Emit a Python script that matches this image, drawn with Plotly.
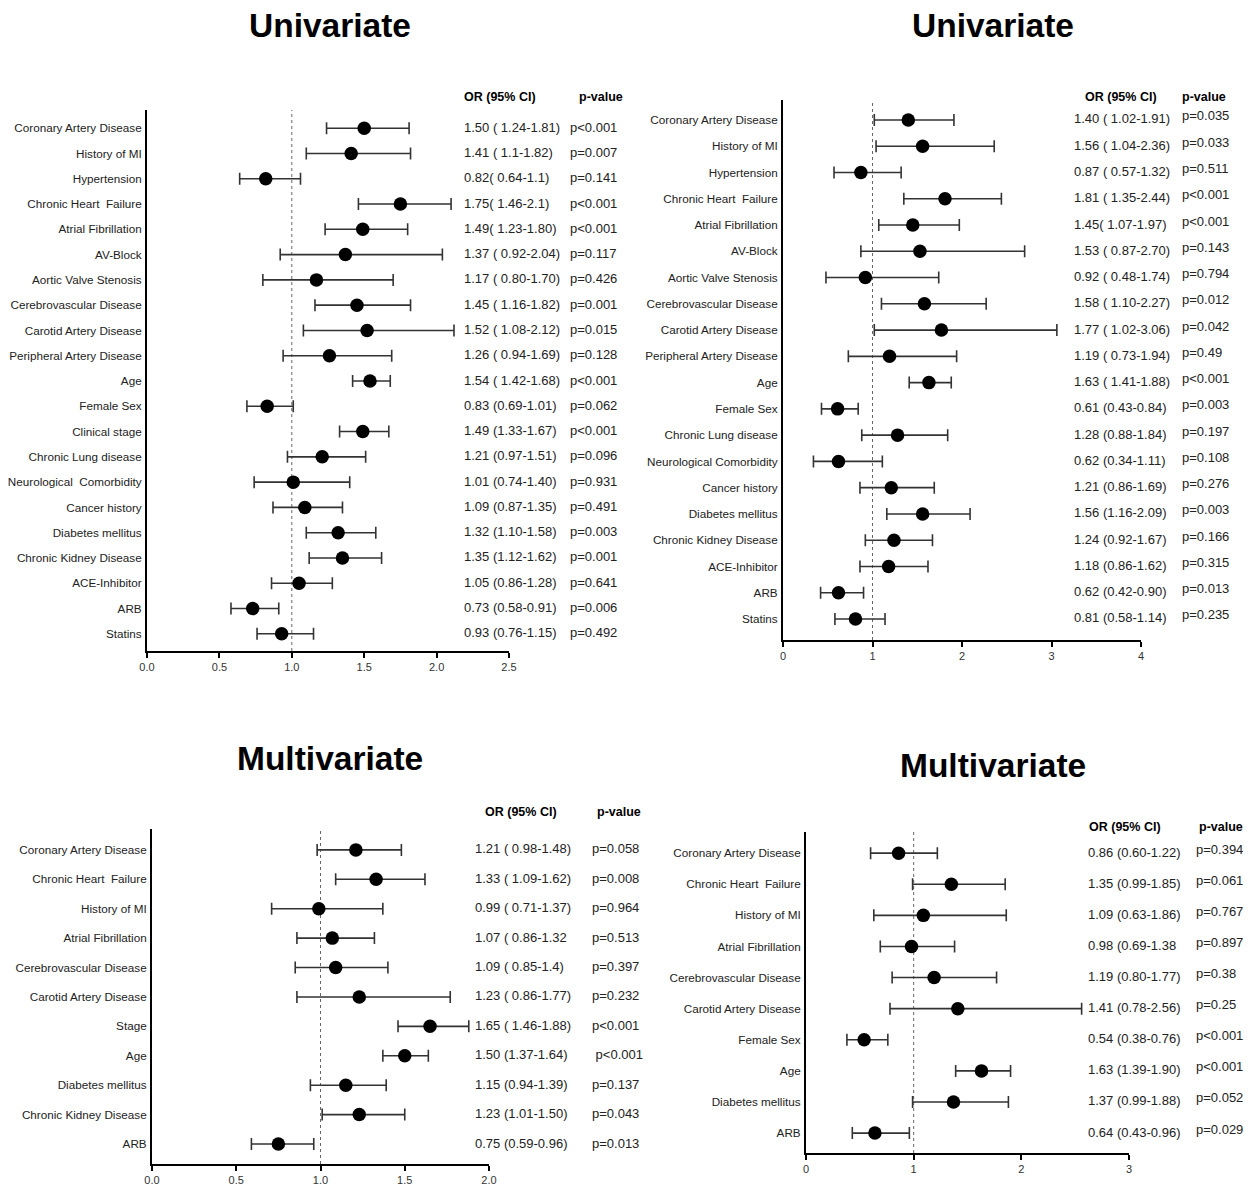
import plotly.graph_objects as go

W, H = 1256, 1188

# ---------------- Data ----------------
# Panel 1: Univariate (left)
p1_labels = ["Coronary Artery Disease", "History of MI", "Hypertension", "Chronic Heart  Failure",
             "Atrial Fibrillation", "AV-Block", "Aortic Valve Stenosis", "Cerebrovascular Disease",
             "Carotid Artery Disease", "Peripheral Artery Disease", "Age", "Female Sex", "Clinical stage",
             "Chronic Lung disease", "Neurological  Comorbidity", "Cancer history", "Diabetes mellitus",
             "Chronic Kidney Disease", "ACE-Inhibitor", "ARB", "Statins"]
p1_or = [1.50, 1.41, 0.82, 1.75, 1.49, 1.37, 1.17, 1.45, 1.52, 1.26, 1.54, 0.83, 1.49, 1.21, 1.01, 1.09, 1.32, 1.35, 1.05, 0.73, 0.93]
p1_lo = [1.24, 1.10, 0.64, 1.46, 1.23, 0.92, 0.80, 1.16, 1.08, 0.94, 1.42, 0.69, 1.33, 0.97, 0.74, 0.87, 1.10, 1.12, 0.86, 0.58, 0.76]
p1_hi = [1.81, 1.82, 1.06, 2.10, 1.80, 2.04, 1.70, 1.82, 2.12, 1.69, 1.68, 1.01, 1.67, 1.51, 1.40, 1.35, 1.58, 1.62, 1.28, 0.91, 1.15]
p1_ortext = ["1.50 ( 1.24-1.81)", "1.41 ( 1.1-1.82)", "0.82( 0.64-1.1)", "1.75( 1.46-2.1)", "1.49( 1.23-1.80)",
             "1.37 ( 0.92-2.04)", "1.17 ( 0.80-1.70)", "1.45 ( 1.16-1.82)", "1.52 ( 1.08-2.12)", "1.26 ( 0.94-1.69)",
             "1.54 ( 1.42-1.68)", "0.83 (0.69-1.01)", "1.49 (1.33-1.67)", "1.21 (0.97-1.51)", "1.01 (0.74-1.40)",
             "1.09 (0.87-1.35)", "1.32 (1.10-1.58)", "1.35 (1.12-1.62)", "1.05 (0.86-1.28)", "0.73 (0.58-0.91)",
             "0.93 (0.76-1.15)"]
p1_p = ["p<0.001", "p=0.007", "p=0.141", "p<0.001", "p<0.001", "p=0.117", "p=0.426", "p=0.001", "p=0.015",
        "p=0.128", "p<0.001", "p=0.062", "p<0.001", "p=0.096", "p=0.931", "p=0.491", "p=0.003", "p=0.001",
        "p=0.641", "p=0.006", "p=0.492"]
p1_ticks = [0.0, 0.5, 1.0, 1.5, 2.0, 2.5]

# Panel 2: Univariate (right)
p2_labels = ["Coronary Artery Disease", "History of MI", "Hypertension", "Chronic Heart  Failure",
             "Atrial Fibrillation", "AV-Block", "Aortic Valve Stenosis", "Cerebrovascular Disease",
             "Carotid Artery Disease", "Peripheral Artery Disease", "Age", "Female Sex", "Chronic Lung disease",
             "Neurological Comorbidity", "Cancer history", "Diabetes mellitus", "Chronic Kidney Disease",
             "ACE-Inhibitor", "ARB", "Statins"]
p2_or = [1.40, 1.56, 0.87, 1.81, 1.45, 1.53, 0.92, 1.58, 1.77, 1.19, 1.63, 0.61, 1.28, 0.62, 1.21, 1.56, 1.24, 1.18, 0.62, 0.81]
p2_lo = [1.02, 1.04, 0.57, 1.35, 1.07, 0.87, 0.48, 1.10, 1.02, 0.73, 1.41, 0.43, 0.88, 0.34, 0.86, 1.16, 0.92, 0.86, 0.42, 0.58]
p2_hi = [1.91, 2.36, 1.32, 2.44, 1.97, 2.70, 1.74, 2.27, 3.06, 1.94, 1.88, 0.84, 1.84, 1.11, 1.69, 2.09, 1.67, 1.62, 0.90, 1.14]
p2_ortext = ["1.40 ( 1.02-1.91)", "1.56 ( 1.04-2.36)", "0.87 ( 0.57-1.32)", "1.81 ( 1.35-2.44)", "1.45( 1.07-1.97)",
             "1.53 ( 0.87-2.70)", "0.92 ( 0.48-1.74)", "1.58 ( 1.10-2.27)", "1.77 ( 1.02-3.06)", "1.19 ( 0.73-1.94)",
             "1.63 ( 1.41-1.88)", "0.61 (0.43-0.84)", "1.28 (0.88-1.84)", "0.62 (0.34-1.11)", "1.21 (0.86-1.69)",
             "1.56 (1.16-2.09)", "1.24 (0.92-1.67)", "1.18 (0.86-1.62)", "0.62 (0.42-0.90)", "0.81 (0.58-1.14)"]
p2_p = ["p=0.035", "p=0.033", "p=0.511", "p<0.001", "p<0.001", "p=0.143", "p=0.794", "p=0.012", "p=0.042",
        "p=0.49", "p<0.001", "p=0.003", "p=0.197", "p=0.108", "p=0.276", "p=0.003", "p=0.166", "p=0.315",
        "p=0.013", "p=0.235"]
p2_ticks = [0, 1, 2, 3, 4]

# Panel 3: Multivariate (left)
p3_labels = ["Coronary Artery Disease", "Chronic Heart  Failure", "History of MI", "Atrial Fibrillation",
             "Cerebrovascular Disease", "Carotid Artery Disease", "Stage", "Age", "Diabetes mellitus",
             "Chronic Kidney Disease", "ARB"]
p3_or = [1.21, 1.33, 0.99, 1.07, 1.09, 1.23, 1.65, 1.50, 1.15, 1.23, 0.75]
p3_lo = [0.98, 1.09, 0.71, 0.86, 0.85, 0.86, 1.46, 1.37, 0.94, 1.01, 0.59]
p3_hi = [1.48, 1.62, 1.37, 1.32, 1.40, 1.77, 1.88, 1.64, 1.39, 1.50, 0.96]
p3_ortext = ["1.21 ( 0.98-1.48)", "1.33 ( 1.09-1.62)", "0.99 ( 0.71-1.37)", "1.07 ( 0.86-1.32",
             "1.09 ( 0.85-1.4)", "1.23 ( 0.86-1.77)", "1.65 ( 1.46-1.88)", "1.50 (1.37-1.64)",
             "1.15 (0.94-1.39)", "1.23 (1.01-1.50)", "0.75 (0.59-0.96)"]
p3_p = ["p=0.058", "p=0.008", "p=0.964", "p=0.513", "p=0.397", "p=0.232", "p<0.001", " p<0.001",
        "p=0.137", "p=0.043", "p=0.013"]
p3_ticks = [0.0, 0.5, 1.0, 1.5, 2.0]

# Panel 4: Multivariate (right)
p4_labels = ["Coronary Artery Disease", "Chronic Heart  Failure", "History of MI", "Atrial Fibrillation",
             "Cerebrovascular Disease", "Carotid Artery Disease", "Female Sex", "Age", "Diabetes mellitus", "ARB"]
p4_or = [0.86, 1.35, 1.09, 0.98, 1.19, 1.41, 0.54, 1.63, 1.37, 0.64]
p4_lo = [0.60, 0.99, 0.63, 0.69, 0.80, 0.78, 0.38, 1.39, 0.99, 0.43]
p4_hi = [1.22, 1.85, 1.86, 1.38, 1.77, 2.56, 0.76, 1.90, 1.88, 0.96]
p4_ortext = ["0.86 (0.60-1.22)", "1.35 (0.99-1.85)", "1.09 (0.63-1.86)", "0.98 (0.69-1.38",
             "1.19 (0.80-1.77)", "1.41 (0.78-2.56)", "0.54 (0.38-0.76)", "1.63 (1.39-1.90)",
             "1.37 (0.99-1.88)", "0.64 (0.43-0.96)"]
p4_p = ["p=0.394", "p=0.061", "p=0.767", "p=0.897", "p=0.38", "p=0.25", "p<0.001", "p<0.001",
        "p=0.052", "p=0.029"]
p4_ticks = [0, 1, 2, 3]

titles = ["Univariate", "Univariate", "Multivariate", "Multivariate"]

# ---------------- Layout geometry (pixels) ----------------
panels = [
    dict(labels=p1_labels, orv=p1_or, lo=p1_lo, hi=p1_hi, ortext=p1_ortext, p=p1_p, ticks=p1_ticks, fmt=".1f",
         xpx=(147, 509), ypx=(110, 651), pad=(0.72, 0.68), xmax=2.5,
         or_x=462, p_x=568, hdr_or=462, hdr_p=577, hdr_y=97, title_xy=(330, 25), p_shift=0),
    dict(labels=p2_labels, orv=p2_or, lo=p2_lo, hi=p2_hi, ortext=p2_ortext, p=p2_p, ticks=p2_ticks, fmt="d",
         xpx=(783, 1141), ypx=(100, 640), pad=(0.76, 0.8), xmax=4,
         or_x=1072, p_x=1180, hdr_or=1083, hdr_p=1180, hdr_y=97, title_xy=(993, 25), p_shift=3),
    dict(labels=p3_labels, orv=p3_or, lo=p3_lo, hi=p3_hi, ortext=p3_ortext, p=p3_p, ticks=p3_ticks, fmt=".1f",
         xpx=(152, 489), ypx=(829, 1164), pad=(0.71, 0.68), xmax=2.0,
         or_x=473, p_x=590, hdr_or=483, hdr_p=595, hdr_y=812, title_xy=(330, 759), p_shift=0),
    dict(labels=p4_labels, orv=p4_or, lo=p4_lo, hi=p4_hi, ortext=p4_ortext, p=p4_p, ticks=p4_ticks, fmt="d",
         xpx=(806, 1129), ypx=(832, 1153), pad=(0.68, 0.64), xmax=3,
         or_x=1086, p_x=1194, hdr_or=1087, hdr_p=1197, hdr_y=827, title_xy=(993, 765), p_shift=3),
]

FONT = "Liberation Sans, Arial, Helvetica, sans-serif"
TXT = "#222222"

fig = go.Figure()
annotations = []
shapes = []
layout = {}

for i, pn in enumerate(panels, start=1):
    xs = "" if i == 1 else str(i)
    xname, yname = "x" + xs, "y" + xs
    n = len(pn["labels"])
    idx = list(range(n))
    plus = [h - o for h, o in zip(pn["hi"], pn["orv"])]
    minus = [o - l for o, l in zip(pn["orv"], pn["lo"])]
    fig.add_trace(go.Scatter(
        x=pn["orv"], y=idx, mode="markers", xaxis=xname, yaxis=yname,
        marker=dict(size=13.5, color="black"),
        error_x=dict(type="data", symmetric=False, array=plus, arrayminus=minus,
                     color="#333333", thickness=1.6, width=6),
        showlegend=False, hoverinfo="skip"))

    x0, x1 = pn["xpx"]
    yt, yb = pn["ypx"]
    layout["xaxis" + xs] = dict(
        domain=[x0 / W, x1 / W], anchor=yname, range=[0, pn["xmax"]], automargin=False,
        tickmode="array", tickvals=pn["ticks"], tickformat=pn["fmt"],
        ticks="outside", ticklen=5, tickwidth=1.5, tickcolor="black",
        showline=True, linewidth=2, linecolor="black", showgrid=False, zeroline=False,
        tickfont=dict(family=FONT, size=11, color="#333333"), fixedrange=True)
    layout["yaxis" + xs] = dict(
        domain=[1 - yb / H, 1 - yt / H], anchor=xname, automargin=False,
        range=[n - 1 + pn["pad"][1], -pn["pad"][0]],
        tickmode="array", tickvals=idx, ticktext=pn["labels"], ticks="",
        ticklabelstandoff=1,
        showline=True, linewidth=2, linecolor="black", showgrid=False, zeroline=False,
        tickfont=dict(family=FONT, size=11.7, color=TXT), fixedrange=True)

    shapes.append(dict(type="line", xref=xname, yref=yname + " domain", x0=1, x1=1, y0=0, y1=1,
                       line=dict(color="#666666", width=1, dash="dot"), layer="below"))

    for k in range(n):
        annotations.append(dict(xref="paper", yref=yname, x=pn["or_x"] / W, y=k, xanchor="left",
                                yanchor="middle", text=pn["ortext"][k], showarrow=False, yshift=1,
                                font=dict(family=FONT, size=13, color=TXT)))
        annotations.append(dict(xref="paper", yref=yname, x=pn["p_x"] / W, y=k, xanchor="left",
                                yanchor="middle", text=pn["p"][k], showarrow=False,
                                yshift=1 + pn["p_shift"],
                                font=dict(family=FONT, size=13, color=TXT)))
    annotations.append(dict(xref="paper", yref="paper", x=pn["hdr_or"] / W, y=1 - pn["hdr_y"] / H,
                            xanchor="left", yanchor="middle", text="<b>OR (95% CI)</b>", showarrow=False,
                            font=dict(family=FONT, size=12.5, color="black")))
    annotations.append(dict(xref="paper", yref="paper", x=pn["hdr_p"] / W, y=1 - pn["hdr_y"] / H,
                            xanchor="left", yanchor="middle", text="<b>p-value</b>", showarrow=False,
                            font=dict(family=FONT, size=12.5, color="black")))
    tx, ty = pn["title_xy"]
    annotations.append(dict(xref="paper", yref="paper", x=tx / W, y=1 - ty / H,
                            xanchor="center", yanchor="middle", text="<b>" + titles[i - 1] + "</b>",
                            showarrow=False, font=dict(family=FONT, size=33.5, color="black")))

fig.update_layout(
    width=W, height=H, margin=dict(l=0, r=0, t=0, b=0, autoexpand=False),
    paper_bgcolor="white", plot_bgcolor="white",
    annotations=annotations, shapes=shapes, **layout)

fig.write_html("out.html", config={"displayModeBar": False},
               post_script="document.body.style.margin='0px';document.body.style.overflow='hidden';")
